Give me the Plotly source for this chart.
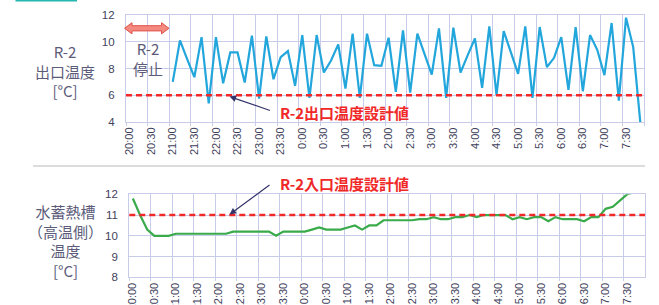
import plotly.graph_objects as go

W, H = 659, 305

# 10-minute categories 20:00 .. 7:50
times = [f"{(20 + m // 60) % 24}:{m % 60:02d}" for m in range(0, 720, 10)]

outlet_temp = [None, None, None, None, None, None,
               7.0, 10.1, 8.7, 7.35, 10.35, 5.4, 10.35, 6.9, 9.2, 9.2,
               6.95, 10.45, 5.75, 10.4, 7.2, 8.85, 9.3, 6.7, 10.5, 5.8,
               10.5, 7.7, 8.6, 9.8, 6.5, 10.6, 5.8, 10.6, 8.25, 8.2,
               10.3, 6.25, 10.85, 6.2, 10.6, 9.1, 7.55, 11.0, 5.8, 11.05,
               7.7, 9.0, 10.25, 6.55, 11.15, 6.0, 10.8, 9.2, 7.6, 11.15,
               5.8, 11.1, 8.1, 8.8, 10.35, 6.4, 11.1, 6.3, 10.5, 9.4,
               7.5, 11.4, 5.6, 11.8, 9.6, 3.9]

tank_temp = [11.8, 11.0, 10.3, 10.0, 10.0, 10.0,
             10.1, 10.1, 10.1, 10.1, 10.1, 10.1, 10.1, 10.1,
             10.2, 10.2, 10.2, 10.2, 10.2, 10.2, 10.0, 10.2, 10.2, 10.2,
             10.2, 10.3, 10.4, 10.3, 10.3, 10.3, 10.4, 10.5, 10.3, 10.5,
             10.5, 10.75, 10.75, 10.75, 10.75, 10.75, 10.8, 10.8, 10.9, 10.8,
             10.8, 10.9, 10.9, 11.0, 10.9, 11.0, 11.0, 11.0, 11.0, 10.8,
             10.9, 10.8, 10.9, 10.9, 10.7, 10.9, 10.8, 10.8, 10.8, 10.7,
             10.9, 10.9, 11.3, 11.4, 11.7, 12.0, 12.1, 12.2]

outlet_design = 6
inlet_design = 11
top_yticks = [4, 6, 8, 10, 12]
bot_yticks = [8, 9, 10, 11, 12]

GRID = "#c9cce8"
TICKC = "#3f3f5c"
GRAYT = "#5c5c7a"
RED = "#f02828"
BLUE = "#22a6dc"
GREEN = "#3aab4b"
NUM_FONT = "Liberation Sans, Arial, sans-serif"
JP_FONT = "Noto Sans CJK JP, sans-serif"


def px(x):
    return x / W


def py(y):
    return 1 - y / H


fig = go.Figure()
fig.add_trace(go.Scatter(x=times, y=outlet_temp, mode="lines",
                         line=dict(color=BLUE, width=2.2), xaxis="x", yaxis="y",
                         connectgaps=False, showlegend=False))
fig.add_trace(go.Scatter(x=times, y=tank_temp, mode="lines",
                         line=dict(color=GREEN, width=2.2), xaxis="x2", yaxis="y2",
                         showlegend=False))

xcommon = dict(type="category", categoryorder="array", categoryarray=times,
               range=[-0.5, len(times) - 0.5], dtick=3, tickson="boundaries",
               tickangle=-90, showgrid=True, gridcolor=GRID, gridwidth=1,
               showline=True, linecolor=GRID, linewidth=1.2, mirror=True,
               ticks="outside", ticklen=3, tickcolor=GRID, automargin=False,
               tickfont=dict(family=NUM_FONT, size=11, color=TICKC))
ycommon = dict(showgrid=True, gridcolor=GRID, gridwidth=1.2,
               showline=True, linecolor=GRID, linewidth=1.2, mirror=True,
               ticks="", zeroline=False, ticklabelstandoff=8, automargin=False,
               tickfont=dict(family=NUM_FONT, size=11.5, color=TICKC))

fig.update_layout(
    width=W, height=H,
    margin=dict(l=0, r=0, t=0, b=0, autoexpand=False),
    paper_bgcolor="white", plot_bgcolor="white",
    xaxis=dict(domain=[px(126), px(644)], anchor="y", **xcommon),
    yaxis=dict(domain=[py(122), py(15)], anchor="x", range=[4, 12],
               tickvals=top_yticks, **ycommon),
    xaxis2=dict(domain=[px(129.3), px(645)], anchor="y2", **xcommon),
    yaxis2=dict(domain=[py(277.3), py(194.3)], anchor="x2", range=[8, 12],
                tickvals=bot_yticks, **ycommon),
)

shapes = []
# design value dashed lines
shapes.append(dict(type="line", xref="x domain", yref="y", x0=0, x1=1,
                   y0=outlet_design, y1=outlet_design,
                   line=dict(color=RED, width=2.5, dash="6px,4px")))
shapes.append(dict(type="line", xref="x2 domain", yref="y2", x0=0, x1=1,
                   y0=inlet_design, y1=inlet_design,
                   line=dict(color=RED, width=2.5, dash="6px,4px")))
# separator line
shapes.append(dict(type="line", xref="paper", yref="paper", x0=px(33), x1=px(645),
                   y0=py(166), y1=py(166), line=dict(color="#d0d0d0", width=1.5)))
# teal bar
shapes.append(dict(type="rect", xref="paper", yref="paper", x0=px(15.5), x1=px(77),
                   y0=py(1.6), y1=py(0), fillcolor="#22b8b0", line=dict(width=0)))
# double-headed arrow (R-2 stop period)
xl, xr, yc = 124.5, 169, 28.3
hl, bh, hh = 7.5, 2.6, 5.6
pts = [(xl, yc), (xl + hl, yc - hh), (xl + hl, yc - bh), (xr - hl, yc - bh),
       (xr - hl, yc - hh), (xr, yc), (xr - hl, yc + hh), (xr - hl, yc + bh),
       (xl + hl, yc + bh), (xl + hl, yc + hh)]
path = "M " + " L ".join(f"{px(a):.5f},{py(b):.5f}" for a, b in pts) + " Z"
shapes.append(dict(type="path", xref="paper", yref="paper", path=path,
                   fillcolor="#f4897f", line=dict(color="#e0524a", width=1)))
fig.update_layout(shapes=shapes)

ann = []
ann.append(dict(xref="paper", yref="paper", x=px(65), y=py(70.5),
                text="R-2<br>出口温度<br>[°C]", showarrow=False, align="center",
                xanchor="center", yanchor="middle",
                font=dict(family=JP_FONT, size=15, color=GRAYT)))
ann.append(dict(xref="paper", yref="paper", x=px(65), y=py(240.5),
                text="水蓄熱槽<br>（高温側）<br>温度<br>[°C]", showarrow=False,
                align="center", xanchor="center", yanchor="middle",
                font=dict(family=JP_FONT, size=15, color=GRAYT)))
ann.append(dict(xref="paper", yref="paper", x=px(147.5), y=py(58.5),
                text="R-2<br>停止", showarrow=False, align="center",
                xanchor="center", yanchor="middle",
                font=dict(family=JP_FONT, size=15, color=GRAYT)))
ann.append(dict(xref="paper", yref="paper", x=px(278), y=py(112.5), xanchor="left",
                yanchor="middle",
                text="<b>R-2出口温度設計値</b>", showarrow=False,
                font=dict(family=JP_FONT, size=15, color=RED)))
ann.append(dict(xref="paper", yref="paper", x=px(278), y=py(183.5), xanchor="left",
                yanchor="middle",
                text="<b>R-2入口温度設計値</b>", showarrow=False,
                font=dict(family=JP_FONT, size=15, color=RED)))
# arrows
ann.append(dict(xref="paper", yref="paper", x=px(229.5), y=py(96.5),
                axref="pixel", ayref="pixel", ax=271.5 - 229.5, ay=111 - 96.5,
                text="", showarrow=True, arrowhead=2, arrowsize=1.1, arrowwidth=1.2,
                arrowcolor="#34346a", standoff=0, startstandoff=0))
ann.append(dict(xref="paper", yref="paper", x=px(229.5), y=py(214.5),
                axref="pixel", ayref="pixel", ax=271 - 229.5, ay=184 - 214.5,
                text="", showarrow=True, arrowhead=2, arrowsize=1.1, arrowwidth=1.2,
                arrowcolor="#34346a", standoff=0, startstandoff=0))
fig.update_layout(annotations=ann)

fig.write_html("out.html", config={"displayModeBar": False},
               post_script="document.body.style.margin='0';document.body.style.padding='0';")
